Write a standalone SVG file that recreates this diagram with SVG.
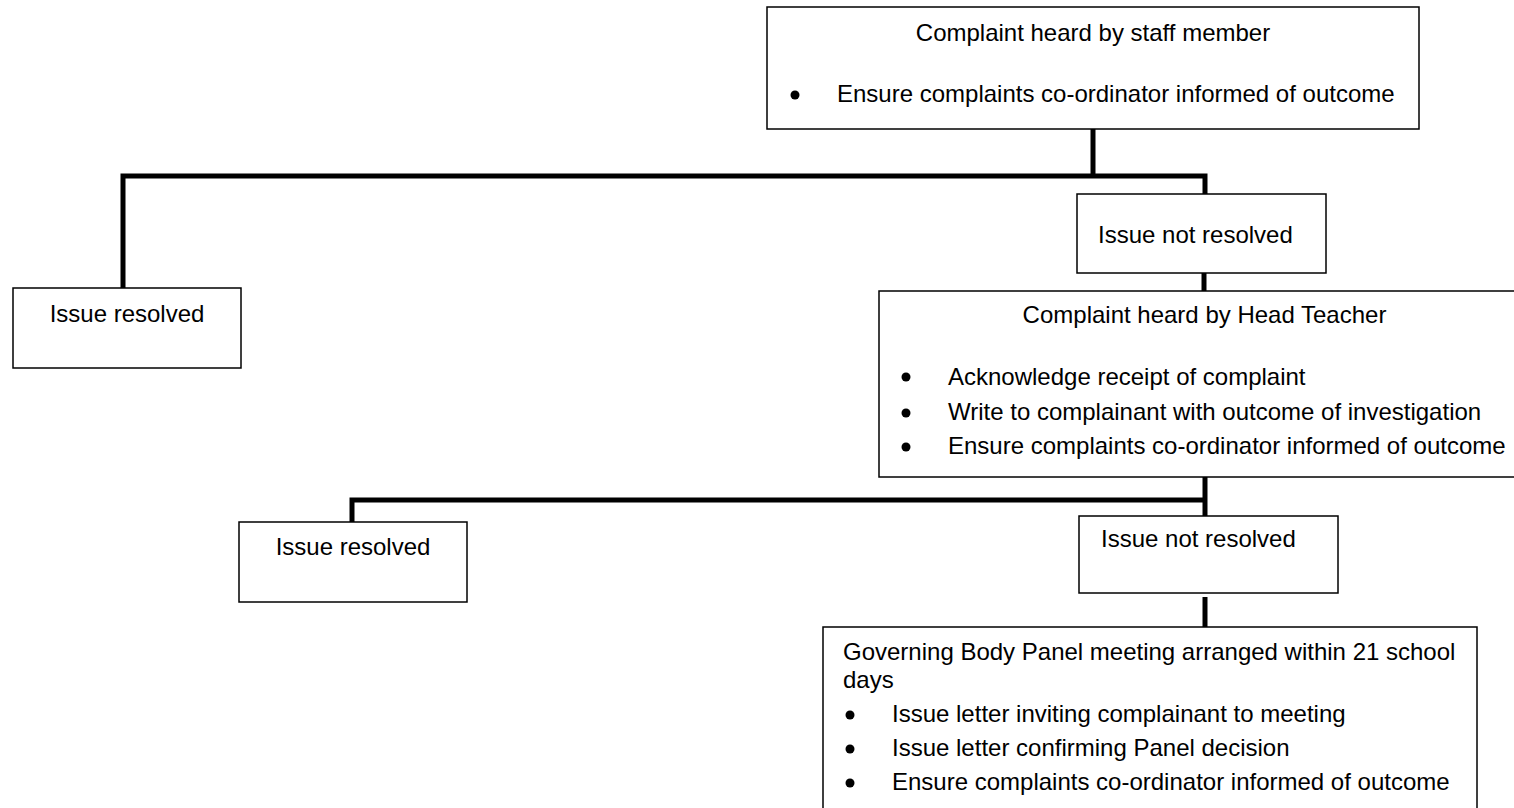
<svg xmlns="http://www.w3.org/2000/svg" width="1514" height="808" viewBox="0 0 1514 808">
<style>
.box{fill:#fff;stroke:#000;stroke-width:1.5}
.t{font-family:"Liberation Sans",Arial,sans-serif;font-size:24px;fill:#000}
.c{text-anchor:middle}
.conn{fill:none;stroke:#000;stroke-width:5;stroke-linejoin:miter;stroke-linecap:butt}
.dot{fill:#000}
</style>
<rect width="1514" height="808" fill="#fff"/>
<g id="connectors">
<path class="conn" d="M1093,129 V176"/>
<path class="conn" d="M123,288 V176 H1205 V194"/>
<path class="conn" d="M1204,273 V291"/>
<path class="conn" d="M1205,477 V516"/>
<path class="conn" d="M352,522 V500 H1205"/>
<path class="conn" d="M1205,597 V627"/>
</g>
<g id="staff">
<rect class="box" x="767" y="7" width="652" height="122"/>
<text class="t c" x="1093" y="41">Complaint heard by staff member</text>
<circle class="dot" cx="795" cy="95" r="4.5"/>
<text class="t" x="837" y="102">Ensure complaints co-ordinator informed of outcome</text>
</g>
<g id="resolved1">
<rect class="box" x="13" y="288" width="228" height="80"/>
<text class="t c" x="127" y="322">Issue resolved</text>
</g>
<g id="notresolved1">
<rect class="box" x="1077" y="194" width="249" height="79"/>
<text class="t" x="1098" y="243">Issue not resolved</text>
</g>
<g id="head">
<rect class="box" x="879" y="291" width="660" height="186"/>
<text class="t c" x="1204.5" y="323">Complaint heard by Head Teacher</text>
<circle class="dot" cx="906" cy="377" r="4.5"/>
<text class="t" x="948" y="385">Acknowledge receipt of complaint</text>
<circle class="dot" cx="906" cy="413" r="4.5"/>
<text class="t" x="948" y="420">Write to complainant with outcome of investigation</text>
<circle class="dot" cx="906" cy="447" r="4.5"/>
<text class="t" x="948" y="454">Ensure complaints co-ordinator informed of outcome</text>
</g>
<g id="resolved2">
<rect class="box" x="239" y="522" width="228" height="80"/>
<text class="t c" x="353" y="555">Issue resolved</text>
</g>
<g id="notresolved2">
<rect class="box" x="1079" y="516" width="259" height="77"/>
<text class="t" x="1101" y="547">Issue not resolved</text>
</g>
<g id="panel">
<rect class="box" x="823" y="627" width="654" height="210"/>
<text class="t" x="843" y="660">Governing Body Panel meeting arranged within 21 school</text>
<text class="t" x="843" y="688">days</text>
<circle class="dot" cx="850" cy="715" r="4.5"/>
<text class="t" x="892" y="722">Issue letter inviting complainant to meeting</text>
<circle class="dot" cx="850" cy="749" r="4.5"/>
<text class="t" x="892" y="756">Issue letter confirming Panel decision</text>
<circle class="dot" cx="850" cy="783" r="4.5"/>
<text class="t" x="892" y="790">Ensure complaints co-ordinator informed of outcome</text>
</g>
</svg>
